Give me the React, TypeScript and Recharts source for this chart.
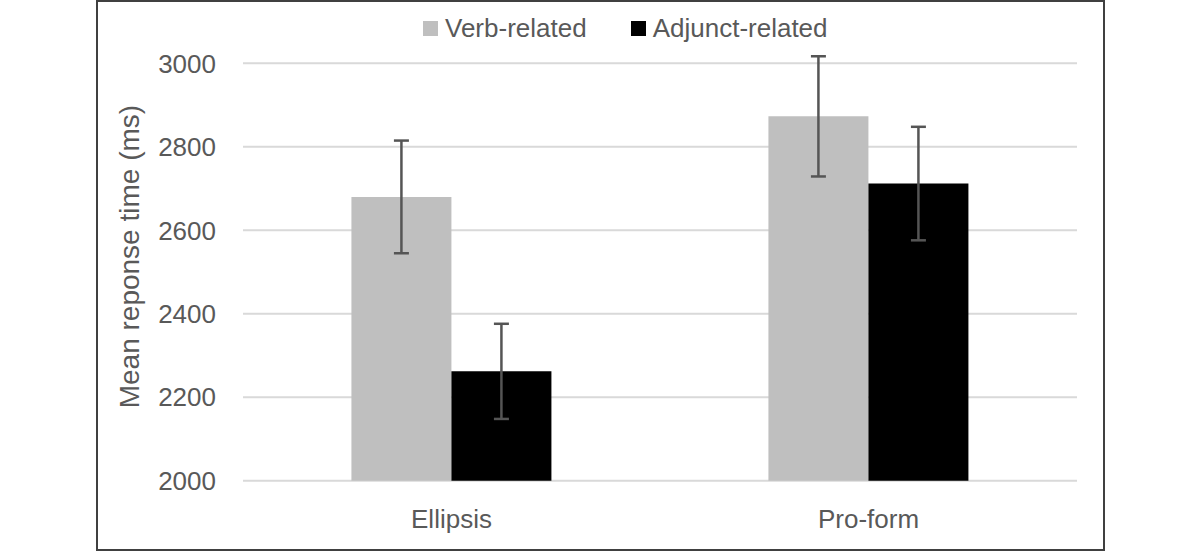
import React from 'react';
import { BarChart, Bar, XAxis, YAxis, CartesianGrid, Legend, ErrorBar } from 'recharts';

const categories = ['Ellipsis', 'Pro-form'];
const verbMeans = [2680, 2873];
const verbErrors = [135, 144];
const adjunctMeans = [2262, 2712];
const adjunctErrors = [114, 136];
const yTicks = [2000, 2200, 2400, 2600, 2800, 3000];

const seriesInfo = [
  { key: 'verb', name: 'Verb-related', color: '#bfbfbf' },
  { key: 'adjunct', name: 'Adjunct-related', color: '#000000' },
];

const data = categories.map((category, i) => ({
  category,
  verb: verbMeans[i],
  verbErr: verbErrors[i],
  adjunct: adjunctMeans[i],
  adjunctErr: adjunctErrors[i],
}));

const FONT = '"Liberation Sans", Arial, sans-serif';
const TEXT = '#595959';

const ChartLegend = () => (
  <div style={{ display: 'flex', alignItems: 'center', fontFamily: FONT, fontSize: 26, lineHeight: '30px', color: TEXT }}>
    {seriesInfo.map((s, i) => (
      <div key={s.key} style={{ display: 'flex', alignItems: 'center', marginLeft: i === 0 ? 0 : 44 }}>
        <div style={{ width: 15, height: 15, backgroundColor: s.color, marginRight: 7 }} />
        <span>{s.name}</span>
      </div>
    ))}
  </div>
);

const AxisTitle = (props: any) => {
  const { viewBox } = props;
  const cx = viewBox.x + 27;
  const cy = viewBox.y + viewBox.height / 2 - 5;
  return (
    <text
      x={cx}
      y={cy}
      transform={`rotate(-90, ${cx}, ${cy})`}
      textAnchor="middle"
      dominantBaseline="central"
      fill={TEXT}
      fontSize={28}
      fontFamily={FONT}
    >
      Mean reponse time (ms)
    </text>
  );
};

export default function App() {
  return (
    <div style={{ position: 'absolute', left: 0, top: 0, width: 1200, height: 552, background: '#ffffff' }}>
      <BarChart
        width={1200}
        height={552}
        data={data}
        margin={{ top: 42.5, right: 123, left: 103, bottom: 11.3 }}
        barCategoryGap="26%"
        barGap={0}
      >
        <CartesianGrid vertical={false} horizontalValues={yTicks} stroke="#d9d9d9" strokeWidth={2} />
        <XAxis
          dataKey="category"
          height={60}
          axisLine={false}
          tickLine={false}
          tickMargin={23}
          tick={{ fill: TEXT, fontSize: 26, fontFamily: FONT }}
        />
        <YAxis
          width={140}
          domain={[2000, 3050]}
          ticks={yTicks}
          axisLine={false}
          tickLine={false}
          tickMargin={21}
          tick={{ fill: TEXT, fontSize: 26, fontFamily: FONT }}
          label={<AxisTitle />}
        />
        <Legend
          verticalAlign="middle"
          align="center"
          content={<ChartLegend />}
          wrapperStyle={{ top: 13, left: 423, width: 500, height: 30 }}
        />
        <Bar dataKey="verb" name="Verb-related" fill="#bfbfbf" isAnimationActive={false}>
          <ErrorBar dataKey="verbErr" width={7.5} stroke="#555555" strokeWidth={2.5} />
        </Bar>
        <Bar dataKey="adjunct" name="Adjunct-related" fill="#000000" isAnimationActive={false}>
          <ErrorBar dataKey="adjunctErr" width={7.5} stroke="#555555" strokeWidth={2.5} />
        </Bar>
      </BarChart>
      <div
        style={{
          position: 'absolute',
          left: 96,
          top: 0,
          width: 1009,
          height: 551,
          border: '2px solid #404040',
          boxSizing: 'border-box',
          pointerEvents: 'none',
        }}
      />
    </div>
  );
}
